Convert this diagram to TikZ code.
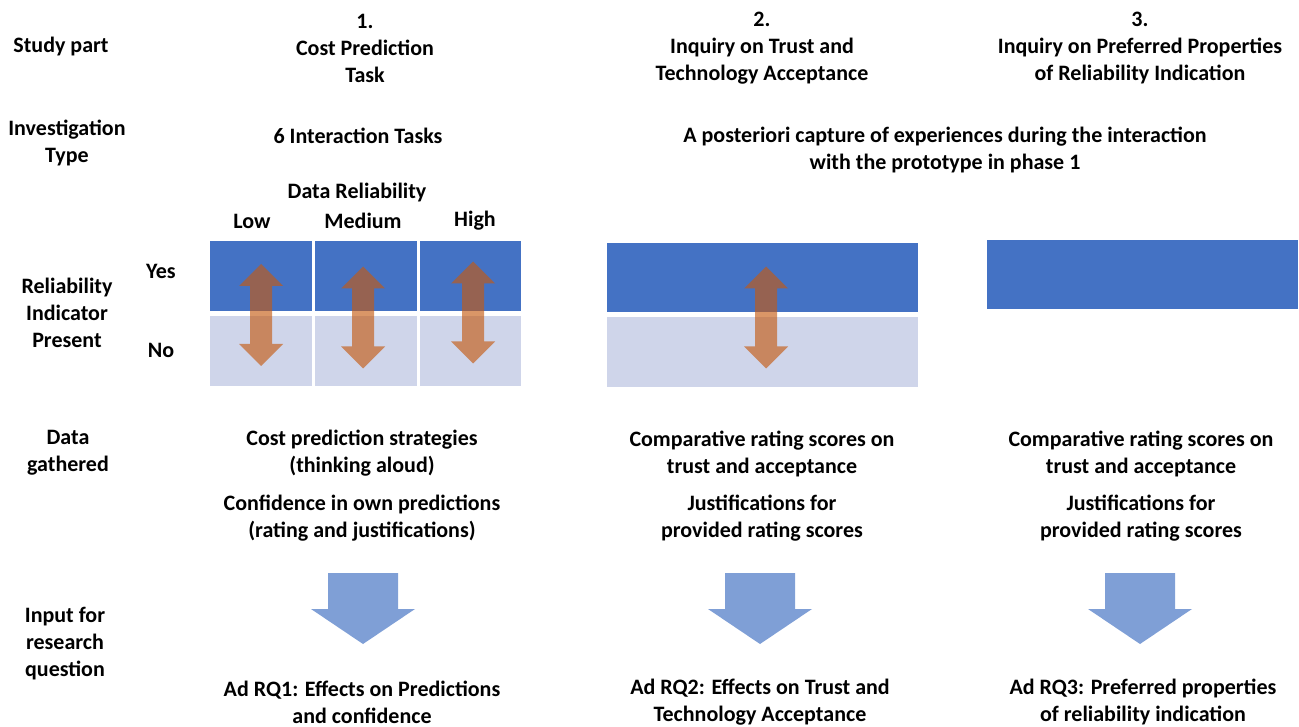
\documentclass[tikz,border=0pt]{standalone}
\usepackage{fontspec}
\setmainfont{Carlito}
\definecolor{darkblue}{HTML}{4472C4}
\definecolor{lightblue}{HTML}{CFD5EA}
\definecolor{arrorange}{HTML}{C55A11}
\definecolor{downblue}{HTML}{7F9FD6}
\tikzset{
  txt/.style={font=\fontsize{22}{27}\selectfont\bfseries, align=center, inner sep=0pt},
  topcell/.style={fill=darkblue, inner sep=0pt, draw=none},
  botcell/.style={fill=lightblue, inner sep=0pt, draw=none},
  dblarrow/.pic={
    \fill[arrorange, fill opacity=0.64] (0,-51) -- (22,-29) -- (11,-29) -- (11,29) -- (22,29) -- (0,51)
      -- (-22,29) -- (-11,29) -- (-11,-29) -- (-22,-29) -- cycle;
  },
  downarrow/.pic={
    \fill[downblue] (-35,0) -- (35,0) -- (35,36) -- (52,36) -- (0,71) -- (-52,36) -- (-35,36) -- cycle;
  }
}
\begin{document}
\begin{tikzpicture}[x=1pt, y=-1pt]
\useasboundingbox (0,0) rectangle (1299,727);
% left labels
\node[txt] (studypart) at (61,47) {Study part};
\node[txt] (invtype) at (67,143) {Investigation\\Type};
\node[txt] (relind) at (67,313) {Reliability\\Indicator\\Present};
\node[txt] (datag) at (68,453) {Data\\gathered};
\node[txt] (inputrq) at (65,644) {Input for\\research\\question};
% headers
\node[txt] (h1) at (365,48) {1.\\Cost Prediction\\Task};
\node[txt] (h2) at (762,48) {2.\\Inquiry on Trust and\\Technology Acceptance};
\node[txt] (h3) at (1140,48) {3.\\Inquiry on Preferred Properties\\of Reliability Indication};
% investigation type
\node[txt] (it1) at (358,136) {6 Interaction Tasks};
\node[txt] (it2) at (945,150) {A posteriori capture of experiences during the interaction\\with the prototype in phase 1};
% data reliability
\node[txt] (drel) at (357,193) {Data Reliability};
\node[txt] (low) at (252,221) {Low};
\node[txt] (med) at (363,221) {Medium};
\node[txt] (high) at (475,221) {High};
\node[txt] (yes) at (161,271) {Yes};
\node[txt] (no) at (161,350) {No};
% grid col 1
\node[topcell, minimum width=102, minimum height=70] (c11) at (261,276) {};
\node[topcell, minimum width=102, minimum height=70] (c12) at (366,276) {};
\node[topcell, minimum width=101, minimum height=70] (c13) at (470.5,276) {};
\node[botcell, minimum width=102, minimum height=70] (c21) at (261,351) {};
\node[botcell, minimum width=102, minimum height=70] (c22) at (366,351) {};
\node[botcell, minimum width=101, minimum height=70] (c23) at (470.5,351) {};
% col 2
\node[topcell, minimum width=311, minimum height=69] (d1) at (762.5,277.5) {};
\node[botcell, minimum width=311, minimum height=70] (d2) at (762.5,352) {};
% col 3
\node[topcell, minimum width=311, minimum height=69] (e1) at (1142.5,274.5) {};
% double arrows
\pic at (261,315) {dblarrow};
\pic at (363,317.5) {dblarrow};
\pic at (473,312.5) {dblarrow};
\pic at (766,317.5) {dblarrow};
% data gathered
\node[txt] (g1a) at (362,453.5) {Cost prediction strategies\\(thinking aloud)};
\node[txt] (g1b) at (362,518.5) {Confidence in own predictions\\(rating and justifications)};
\node[txt] (g2a) at (762,453.5) {Comparative rating scores on\\trust and acceptance};
\node[txt] (g2b) at (762,518.5) {Justifications for\\provided rating scores};
\node[txt] (g3a) at (1141,453.5) {Comparative rating scores on\\trust and acceptance};
\node[txt] (g3b) at (1141,518.5) {Justifications for\\provided rating scores};
% down arrows
\pic at (363,573) {downarrow};
\pic at (760,573) {downarrow};
\pic at (1140,573) {downarrow};
% research questions
\node[txt] (rq1) at (362,702) {Ad RQ1: Effects on Predictions\\and confidence};
\node[txt] (rq2) at (760,702) {Ad RQ2: Effects on Trust and\\Technology Acceptance};
\node[txt] (rq3) at (1143,702) {Ad RQ3: Preferred properties\\of reliability indication};
\end{tikzpicture}
\end{document}
